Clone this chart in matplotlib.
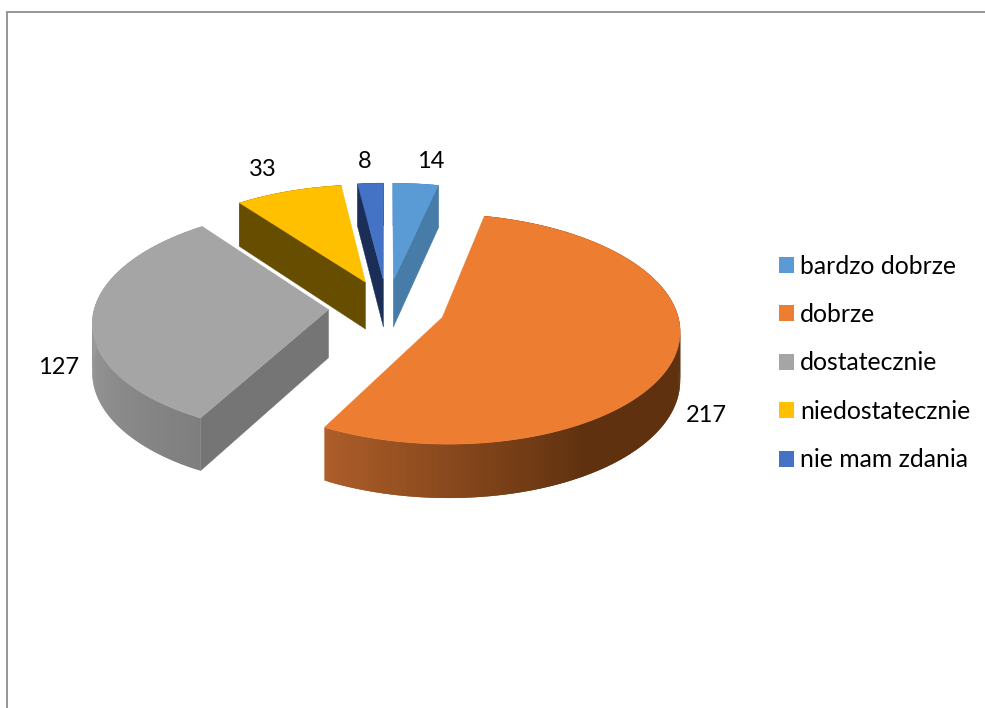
import numpy as np
import matplotlib
matplotlib.use("Agg")
import matplotlib.pyplot as plt
from matplotlib.patches import Polygon, Patch
from matplotlib.colors import to_rgb

plt.rcParams['font.family'] = ['Lato', 'DejaVu Sans']

categories = ['bardzo dobrze', 'dobrze', 'dostatecznie', 'niedostatecznie', 'nie mam zdania']
values = [14, 217, 127, 33, 8]
top_colors = ['#5B9BD5', '#ED7D31', '#A5A5A5', '#FFC000', '#4472C4']
side_colors = ['#477BA8', '#60310F', '#757575', '#664D00', '#1B2E57']
wall_shades = [('#477BA8', '#477BA8'), ('#AE5E2A', '#60310F'), ('#7E7E7E', '#9A9A9A'),
               ('#664D00', '#664D00'), ('#1B2E57', '#1B2E57')]
label_pos = [(431, 162), (706, 415), (59, 368), (263, 169), (365, 162)]

CX, CY, A, B, D, EXPLODE, DEPTH = 387, 307.5, 234, 112, 10, 0.25, 48
FS_LABEL = 17
FS_LEGEND = 17.8

fig = plt.figure(figsize=(9.85, 7.08), dpi=100)
ax = fig.add_axes([0, 0, 1, 1])
ax.set_xlim(0, 985)
ax.set_ylim(708, 0)
ax.axis('off')

ax.plot([6.5, 6.5, 985], [708, 11.5, 11.5], color='#8E8E8E', lw=1.3, solid_joinstyle='miter')


def project(X, Y, z=0.0):
    s = D / (D + Y)
    return CX + A * X * s, CY - B * Y * s + DEPTH * z * s


def poly(pts, color, z, lw=0.3):
    ax.add_patch(Polygon(pts, closed=True, facecolor=color,
                         edgecolor=color if lw else 'none', lw=lw, zorder=z))


def arc(t0, t1, n):
    return np.radians(np.linspace(t0, t1, n))


sweeps = np.array(values) / sum(values) * 360
starts = np.concatenate([[0], np.cumsum(sweeps)[:-1]])
order = [0, 4, 3, 2, 1]

for rank, i in enumerate(order):
    t0, t1 = starts[i], starts[i] + sweeps[i]
    mid = np.radians((t0 + t1) / 2)
    ox, oy = EXPLODE * np.sin(mid), EXPLODE * np.cos(mid)
    z = 2 + rank
    n = max(int(sweeps[i] * 1.0), 8)
    ts = arc(t0, t1, n)
    xs, ys = ox + np.sin(ts), oy + np.cos(ts)

    # outer wall, in overlapping shaded strips so no seams show
    c0, c1 = map(np.array, map(to_rgb, wall_shades[i]))
    idx = range(n - 1) if i != 1 else range(n - 2, -1, -1)
    for k in idx:
        tm = np.degrees((ts[k] + ts[k + 1]) / 2)
        if i == 1:
            f = np.clip((208.4 - tm) / 60, 0, 1)
        else:
            f = np.clip((tm - 208.4) / 62, 0, 1)
        col = c0 + (c1 - c0) * f
        k0 = max(k - 1, 0) if i == 1 else k
        k1 = k + 1 if i == 1 else min(k + 2, n - 1)
        poly([project(xs[k0], ys[k0]), project(xs[k1], ys[k1]),
              project(xs[k1], ys[k1], 1), project(xs[k0], ys[k0], 1)], col, z, lw=0)

    # radial walls facing the viewer
    for t in (t0, t1):
        sign = -1 if t == t0 else 1
        normal_y = -sign * np.sin(np.radians(t))
        if normal_y < 0:
            ex, ey = ox + np.sin(np.radians(t)), oy + np.cos(np.radians(t))
            poly([project(ox, oy), project(ex, ey), project(ex, ey, 1), project(ox, oy, 1)],
                 side_colors[i], z + 0.2)

    # top face
    top = [project(ox, oy)] + [project(x, y) for x, y in zip(xs, ys)]
    poly(top, top_colors[i], z + 0.5)

for v, (x, y) in zip(values, label_pos):
    ax.text(x, y, str(v), ha='center', va='center', fontsize=FS_LABEL, color='black', zorder=20)

handles = [Patch(facecolor=c, edgecolor='none') for c in top_colors]
ax.legend(handles, categories, loc='center left', bbox_to_anchor=(779 / 985, 1 - 363 / 708),
          frameon=False, fontsize=FS_LEGEND, handlelength=0.61, handleheight=0.61,
          handletextpad=0.25, labelspacing=1.03, borderpad=0, borderaxespad=0)

fig.savefig('out.png', dpi=100)
